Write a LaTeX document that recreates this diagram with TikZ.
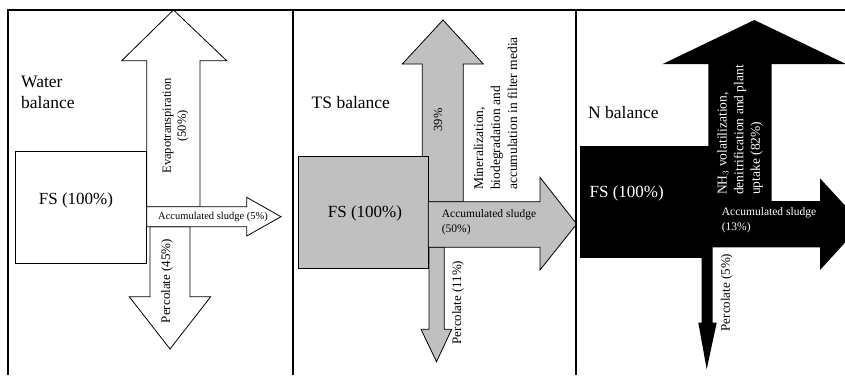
\documentclass[tikz,border=0pt]{standalone}
\usepackage{fontspec}
\setmainfont{Liberation Serif}
\definecolor{tsgray}{RGB}{192,192,192}

\begin{document}
\begin{tikzpicture}[x=1pt,y=-1pt,line join=miter,
  frame/.style={line width=1.3pt},
  flow/.style={line width=.8pt},
  title/.style={font=\fontsize{17.5}{21}\selectfont,align=left,anchor=west,inner sep=0pt},
  fstext/.style={font=\fontsize{17}{20}\selectfont,inner sep=0pt},
  vlabel/.style={font=\fontsize{13}{16.5}\selectfont,rotate=90,inner sep=0pt},
  hlabel/.style={font=\fontsize{11.5}{15}\selectfont,align=left,anchor=west,inner sep=0pt}]
 \clip (0,0) rectangle (845,375);
 % Water balance.
 \filldraw[flow,fill=white] (146.7,207)--(146.7,60.7)--(121.7,60.7)--(173.5,10)
  --(226.7,60.7)--(200,60.7)--(200,207)--cycle;
 \filldraw[flow,fill=white] (150,226.7)--(150,296.7)--(129.3,296.7)--(170,349)
  --(210.7,296.7)--(190,296.7)--(190,226.7)--cycle;
 \filldraw[flow,fill=white] (15.7,151.7) rectangle (146.7,263.3);
 \filldraw[flow,fill=white] (146.7,206.7)--(246.7,206.7)--(246.7,197.3)--(281,216.7)
  --(246.7,236)--(246.7,226.7)--(146.7,226.7)--cycle;
 \node[title] (wtitle) at (21,92.5) {Water\\balance};
 \node[fstext] (wfs) at (76,200) {FS (100\%)};
 \node[vlabel,align=center,font=\fontsize{12.5}{15}\selectfont] (wevap) at (175.5,126) {Evapotranspiration\\(50\%)};
 \node[font=\fontsize{10.5}{12}\selectfont,inner sep=0pt] (wacc) at (213,217) {Accumulated sludge (5\%)};
 \node[vlabel] (wperc) at (167,281) {Percolate (45\%)};
 % TS balance.
 \filldraw[flow,fill=tsgray] (422.3,201.7)--(422.3,64)--(402.3,64)--(443,20)
  --(483.3,64)--(463.3,64)--(463.3,201.7)--cycle;
 \filldraw[flow,fill=tsgray] (429,247.3)--(429,329.3)--(421,329.3)--(436.5,361.7)
  --(451.7,329.3)--(444.3,329.3)--(444.3,247.3)--cycle;
 \filldraw[flow,fill=tsgray] (298.3,156) rectangle (428.3,268.3);
 \filldraw[flow,fill=tsgray] (428.3,201.7)--(540,201.7)--(540,177.3)--(576.7,224)
  --(540,270)--(540,247.3)--(428.3,247.3)--cycle;
 \node[title] (ttitle) at (311.5,103) {TS balance};
 \node[fstext] (tfs) at (365,213) {FS (100\%)};
 \node[vlabel,font=\fontsize{12.5}{15}\selectfont] (tmin) at (438,120) {39\%};
 \node[vlabel,anchor=west,align=left,font=\fontsize{13.5}{17}\selectfont] (tminlab) at (495.5,190)
  {Mineralization,\\biodegradation and\\accumulation in filter media};
 \node[hlabel] (tacc) at (441.7,222.5) {Accumulated sludge\\(50\%)};
 \node[vlabel] (tperc) at (458,302.5) {Percolate (11\%)};
 % N balance.
 \fill (708.3,201)--(708.3,64)--(662.7,64)--(754.3,20)--(846,64)--(771.7,64)--(771.7,201)--cycle;
 \fill (701.7,247)--(701.7,322.7)--(698.3,322.7)--(706.7,369.3)--(716.7,322.7)
  --(712.7,322.7)--(712.7,247)--cycle;
 \fill (580,146) rectangle (710,258.3);
 \fill (708,201)--(820,201)--(820,178.3)--(862,224)--(820,270)--(820,247.3)--(708,247.3)--cycle;
 \node[title] (ntitle) at (588,113) {N balance};
 \node[fstext,text=white] (nfs) at (626.7,193.3) {FS (100\%)};
 \node[vlabel,anchor=west,align=left,text=white,font=\fontsize{13.5}{16.7}\selectfont] (nvol) at (740,195)
  {NH$_3$ volatilization,\\denitrification and plant\\uptake (82\%)};
 \node[hlabel,text=white] (nacc) at (721.7,220.5) {Accumulated sludge\\(13\%)};
 \node[vlabel] (nperc) at (726.7,292.5) {Percolate (5\%)};
 % Frames.
 \draw[frame] (8,375)--(8,10)--(845,10);
 \draw[frame] (293,10)--(293,375);
 \draw[frame] (576,10)--(576,375);
\end{tikzpicture}
\end{document}
